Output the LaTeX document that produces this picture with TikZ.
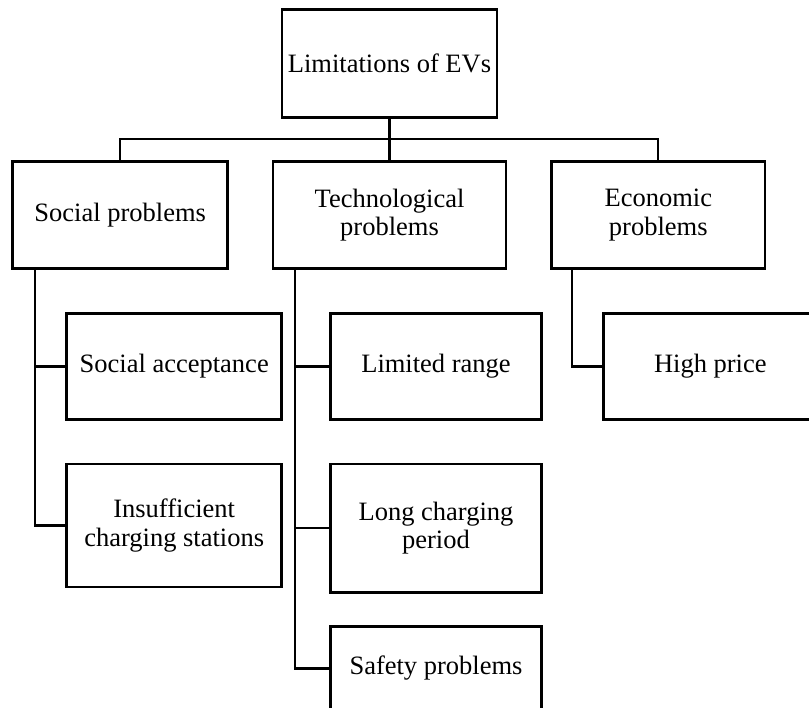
\documentclass[tikz,border=0pt]{standalone}
\usepackage{fontspec}
\setmainfont{Liberation Serif}
\begin{document}
\begin{tikzpicture}[x=1pt,y=-1pt,
  box/.style={draw=black,line width=2.5pt,rectangle,inner sep=0pt,align=center,
    font=\fontsize{26.5}{28.5}\selectfont},
  link/.style={draw=black,line width=2.3pt}]
\useasboundingbox (0,0) rectangle (809,708);
\clip (0,0) rectangle (809,708);
% level 0
\node[box,minimum width=215pt,minimum height=108pt] (top) at (389.5,63.3) {Limitations of EVs};
% level 1
\node[box,minimum width=215pt,minimum height=107pt] (social) at (120.2,215.2) {Social problems};
\node[box,minimum width=232.6pt,minimum height=107pt] (tech) at (389.5,215.2) {Technological\\problems};
\node[box,minimum width=213.3pt,minimum height=107pt] (econ) at (658.3,215.2) {Economic\\problems};
% level 2
\node[box,minimum width=215pt,minimum height=106pt] (socacc) at (174.2,366.5) {Social acceptance};
\node[box,minimum width=215pt,minimum height=123pt] (insuff) at (174.2,525.5) {Insufficient\\charging stations};
\node[box,minimum width=211pt,minimum height=106pt] (limited) at (436,366.5) {Limited range};
\node[box,minimum width=211pt,minimum height=128.6pt] (longch) at (436,528.2) {Long charging\\period};
\node[box,minimum width=211pt,minimum height=84pt] (safety) at (436,668.5) {Safety problems};
\node[box,minimum width=213.3pt,minimum height=106pt] (high) at (710.3,366.5) {High price};
% spine coordinates
\coordinate (bus) at (0,139.3);
\coordinate (sv) at (34.7,0);
\coordinate (tv) at (294.7,0);
\coordinate (ev) at (572,0);
% top connectors
\draw[link] (top.south) -- (tech.north);
\draw[link] (social.north) -- (social.north |- bus) -| (econ.north);
% social branch
\draw[link] (social.south -| sv) |- (insuff.west);
\draw[link] (sv |- socacc.west) -- (socacc.west);
% technological branch
\draw[link] (tech.south -| tv) |- (safety.west);
\draw[link] (tv |- limited.west) -- (limited.west);
\draw[link] (tv |- longch.west) -- (longch.west);
% economic branch
\draw[link] (econ.south -| ev) |- (high.west);
\end{tikzpicture}
\end{document}
